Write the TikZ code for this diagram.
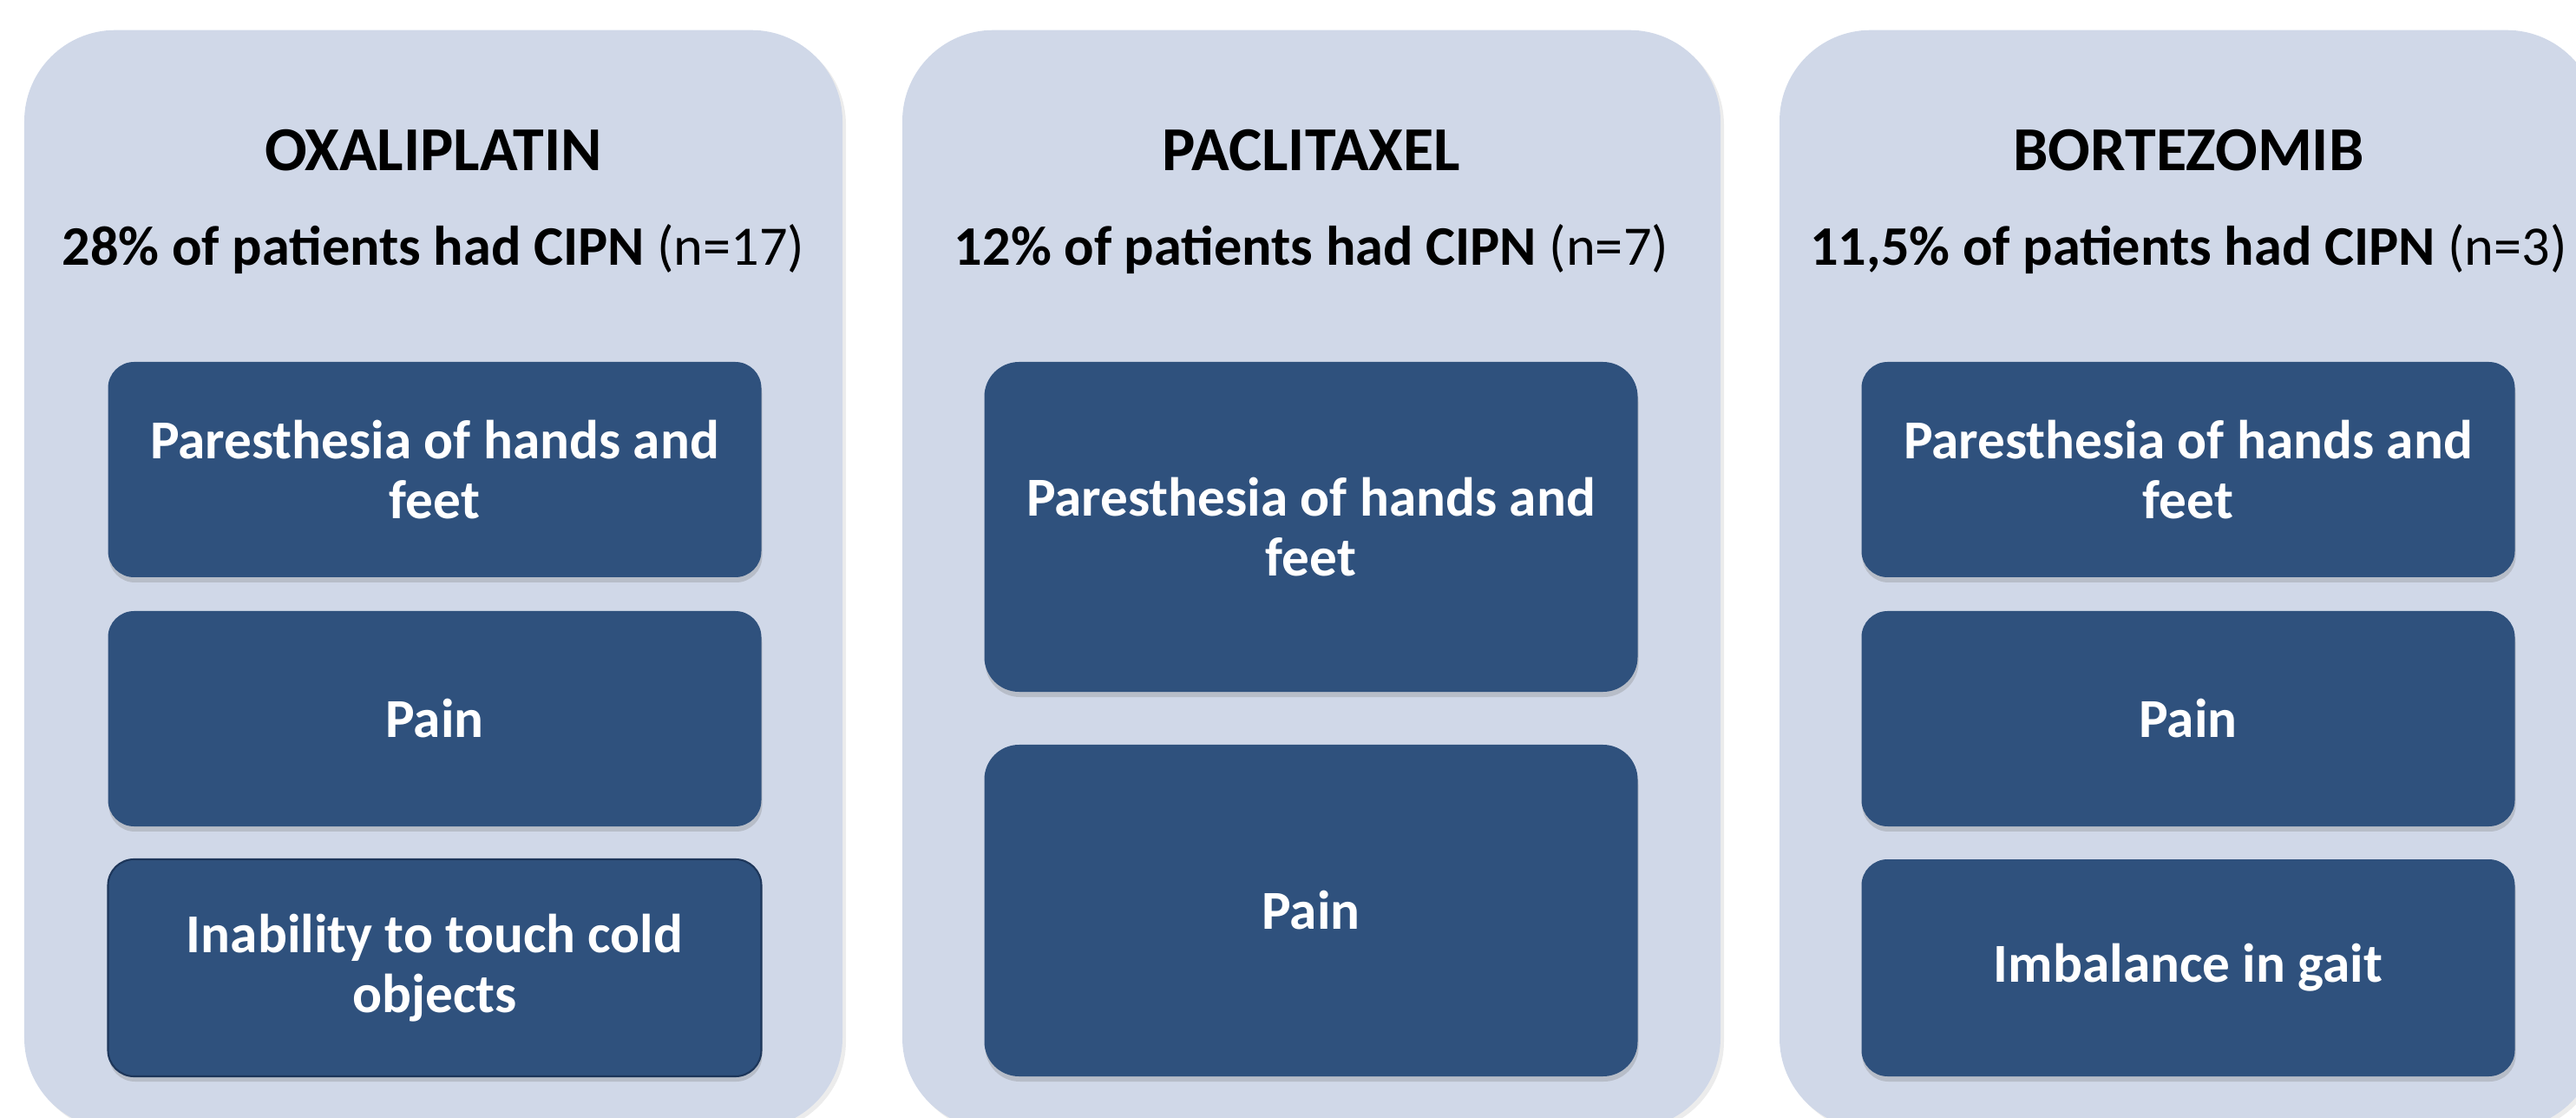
\documentclass[tikz,border=0pt]{standalone}
\usepackage{fontspec}
\setmainfont{Carlito}
\usetikzlibrary{shadows}
\definecolor{panelfill}{HTML}{D0D8E8}
\definecolor{boxfill}{HTML}{2F517D}
\definecolor{boxline}{HTML}{1D365A}
\begin{document}
\begin{tikzpicture}[
  panel/.style={fill=panelfill, draw=none, rectangle, rounded corners=1.05cm,
    minimum width=9.43cm, minimum height=12.66cm, anchor=north,
    drop shadow={shadow xshift=0.04cm, shadow yshift=-0.04cm, opacity=0.15}},
  symbox/.style={fill=boxfill, draw=none, text=white, align=center, rectangle,
    rounded corners=0.3cm, minimum width=7.53cm, inner sep=0pt,
    font=\fontsize{18}{19.5}\selectfont\bfseries,
    drop shadow={shadow xshift=0.01cm, shadow yshift=-0.06cm, opacity=0.3}},
  tallbox/.style={symbox, rounded corners=0.4cm},
  drugtitle/.style={anchor=base, font=\fontsize{20.5}{24}\selectfont\bfseries},
  drugsub/.style={anchor=base, font=\fontsize{18.3}{22}\selectfont}
]
\useasboundingbox (0,0) rectangle (29.69,-12.88);
\clip (0,0) rectangle (29.69,-12.88);

% panels
\node[panel] (p1) at (4.995,-0.34) {};
\node[panel] (p2) at (15.115,-0.34) {};
\node[panel] (p3) at (25.225,-0.34) {};

% titles
\node[drugtitle] (t1) at (4.995,-1.97) {OXALIPLATIN};
\node[drugtitle] (t2) at (15.115,-1.97) {PACLITAXEL};
\node[drugtitle] (t3) at (25.225,-1.97) {BORTEZOMIB};

\node[drugsub] (s1) at (4.995,-3.06) {\textbf{28\% of patients had CIPN} (n=17)};
\node[drugsub] (s2) at (15.115,-3.06) {\textbf{12\% of patients had CIPN} (n=7)};
\node[drugsub] (s3) at (25.225,-3.06) {\textbf{11,5\% of patients had CIPN} (n=3)};

% oxaliplatin boxes
\node[symbox, minimum height=2.48cm] (a1) at (5.01,-5.41) {Paresthesia of hands and\\feet};
\node[symbox, minimum height=2.48cm] (a2) at (5.01,-8.28) {Pain};
\node[symbox, minimum height=2.50cm, draw=boxline, line width=0.6pt] (a3) at (5.01,-11.15) {Inability to touch cold\\objects};

% paclitaxel boxes
\node[tallbox, minimum height=3.80cm] (b1) at (15.11,-6.07) {Paresthesia of hands and\\feet};
\node[tallbox, minimum height=3.82cm] (b2) at (15.11,-10.49) {Pain};

% bortezomib boxes
\node[symbox, minimum height=2.48cm] (c1) at (25.22,-5.41) {Paresthesia of hands and\\feet};
\node[symbox, minimum height=2.48cm] (c2) at (25.22,-8.28) {Pain};
\node[symbox, minimum height=2.50cm] (c3) at (25.22,-11.15) {Imbalance in gait};
\end{tikzpicture}
\end{document}
